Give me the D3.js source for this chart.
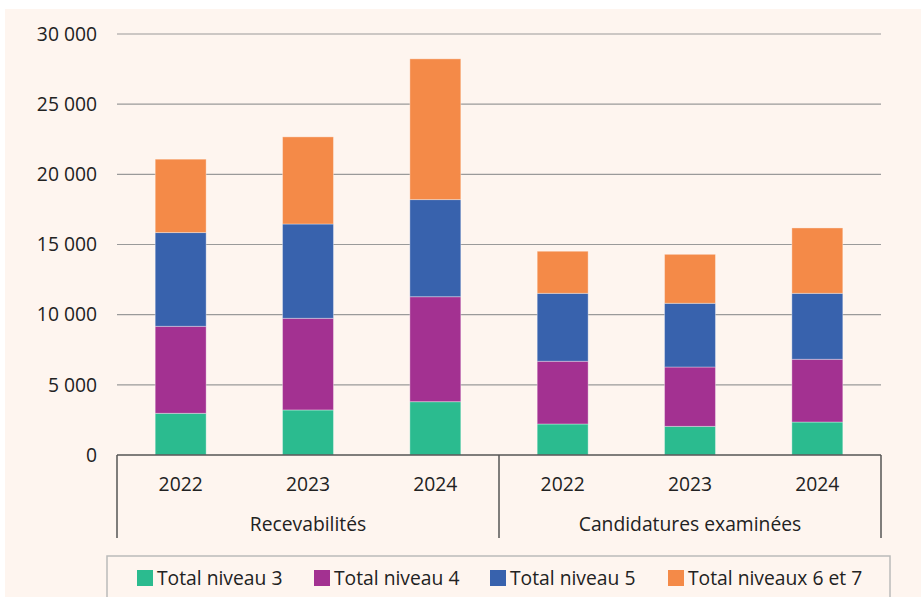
<!DOCTYPE html>
<html><head><meta charset="utf-8">
<script src="https://cdn.jsdelivr.net/npm/d3@7"></script>
<style>
html,body{margin:0;padding:0;background:#fff;}
svg{display:block;font-family:"Open Sans",Lato,sans-serif;}
</style></head>
<body><svg id="c" width="921" height="597"></svg>
<script>
const groups = ["Recevabilités", "Candidatures examinées"];
const years = ["2022", "2023", "2024"];
const seriesNames = ["Total niveau 3", "Total niveau 4", "Total niveau 5", "Total niveaux 6 et 7"];
const colors = ["#2bbb8f", "#a33191", "#3862ad", "#f48a48"];
const niveau3 = [2970, 3210, 3800, 2210, 2040, 2350];
const niveau4 = [6200, 6530, 7480, 4470, 4230, 4470];
const niveau5 = [6680, 6720, 6920, 4840, 4540, 4700];
const niveaux67 = [5230, 6210, 10030, 3000, 3490, 4660];
const yTicks = [0, 5000, 10000, 15000, 20000, 25000, 30000];

(function(){
const FS = 19.3;
const svg = d3.select("#c");
svg.append("rect").attr("x",5).attr("y",9).attr("width",916).attr("height",588).attr("fill","#fef5ef");

const pL=117, pR=881, pT=34, pB=455;
const cats = [];
groups.forEach(g=>years.forEach(y=>cats.push(g+"|"+y)));
const rows = cats.map((c,i)=>({cat:c, n3:niveau3[i], n4:niveau4[i], n5:niveau5[i], n67:niveaux67[i]}));
const keys = ["n3","n4","n5","n67"];

const x = d3.scaleBand().domain(cats).range([pL,pR]).paddingInner(0.6).paddingOuter(0.3);
const y = d3.scaleLinear().domain([0,30000]).range([pB,pT]);

svg.append("g").selectAll("line").data(yTicks.filter(t=>t>0)).join("line")
  .attr("x1",pL).attr("x2",pR).attr("y1",d=>y(d)).attr("y2",d=>y(d))
  .attr("stroke","#9a9a9a").attr("stroke-width",1.2);

svg.append("g").selectAll("text").data(yTicks).join("text")
  .attr("x",97).attr("y",d=>y(d)).attr("dy","0.35em").attr("text-anchor","end")
  .attr("font-size",FS).attr("fill","#222").text(d=>d3.format(",")(d).replace(/,/g," "));

const stack = d3.stack().keys(keys)(rows);
svg.append("g").selectAll("g").data(stack).join("g").attr("fill",(d,i)=>colors[i])
  .selectAll("rect").data(d=>d).join("rect")
  .attr("x",d=>x(d.data.cat)).attr("width",x.bandwidth())
  .attr("y",d=>y(d[1])).attr("height",d=>y(d[0])-y(d[1]))
  .attr("stroke","rgba(255,255,255,0.35)").attr("stroke-width",1);

const ax = svg.append("g").attr("stroke","#555").attr("stroke-width",1.5);
ax.append("line").attr("x1",pL).attr("x2",pR).attr("y1",pB).attr("y2",pB);
const mid = (x(cats[2])+x.bandwidth()+x(cats[3]))/2;
[pL, mid, pR].forEach(xx=>{
  ax.append("line").attr("x1",xx).attr("x2",xx).attr("y1",pB).attr("y2",538);
});
svg.append("g").selectAll("text").data(cats).join("text")
  .attr("x",d=>x(d)+x.bandwidth()/2).attr("y",484).attr("dy","0.35em").attr("text-anchor","middle")
  .attr("font-size",FS).attr("fill","#222").text(d=>d.split("|")[1]);
svg.append("g").selectAll("text").data(groups).join("text")
  .attr("x",(d,i)=>i===0?(pL+mid)/2:(mid+pR)/2).attr("y",524).attr("dy","0.35em").attr("text-anchor","middle")
  .attr("font-size",FS).attr("fill","#222").text(d=>d);

svg.append("rect").attr("x",107).attr("y",556).attr("width",783).attr("height",50)
  .attr("fill","none").attr("stroke","#bbb").attr("stroke-width",1.5);
const legX = [137, 314, 490, 668];
const lg = svg.append("g").selectAll("g").data(seriesNames).join("g")
  .attr("transform",(d,i)=>`translate(${legX[i]},570)`);
lg.append("rect").attr("width",16).attr("height",16).attr("fill",(d,i)=>colors[i]);
lg.append("text").attr("x",20).attr("y",8).attr("dy","0.36em").attr("font-size",FS).attr("fill","#222").text(d=>d);
})();
</script></body></html>
